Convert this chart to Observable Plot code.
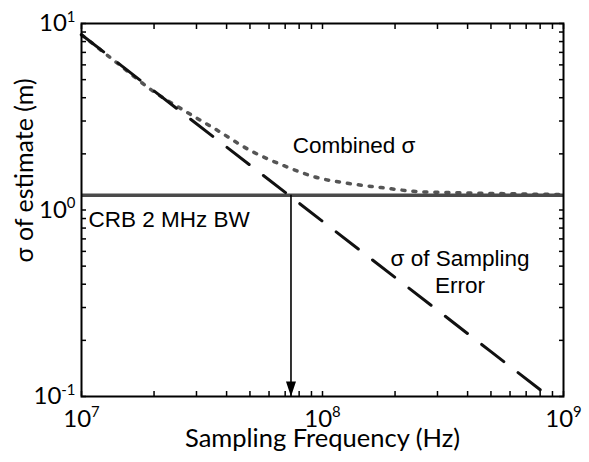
<!DOCTYPE html>
<html><head><meta charset="utf-8">
<script src="https://cdn.jsdelivr.net/npm/d3@7"></script>
<script src="https://cdn.jsdelivr.net/npm/@observablehq/plot@0.6"></script>
<style>body{margin:0;background:#fff} svg{display:block}</style>
</head><body><div id="chart"></div>
<script>
// --- data ---
const xDomain = [1e7, 1e9];
const yDomain = [0.1, 10];
const xMajorTicks = [1e7, 1e8, 1e9];
const xMinorTicks = [2e7, 3e7, 4e7, 5e7, 6e7, 7e7, 8e7, 9e7, 2e8, 3e8, 4e8, 5e8, 6e8, 7e8, 8e8, 9e8];
const yMajorTicks = [0.1, 1, 10];
const yMinorTicks = [0.2, 0.3, 0.4, 0.5, 0.6, 0.7, 0.8, 0.9, 2, 3, 4, 5, 6, 7, 8, 9];

const samplingFreq  = [1e7, 2e7, 5e7, 1e8, 2e8, 5e8, 8.7e8];
const samplingSigma = [8.7, 4.35, 1.74, 0.87, 0.435, 0.174, 0.1];

const combinedFreq  = [1e7, 1.45e7, 2e7, 2.7e7, 3.67e7, 5.03e7, 6.9e7, 9.55e7, 1.27e8, 1.75e8, 2.39e8, 3.31e8, 4.54e8, 6.45e8, 1e9];
const combinedSigma = [8.7, 5.95, 4.3, 3.38, 2.67, 2.08, 1.73, 1.49, 1.39, 1.32, 1.26, 1.24, 1.23, 1.22, 1.21];

const crbSigma = 1.2;
const arrowFreq = 7.4e7;

const labelCombined = "Combined σ";
const labelCrb = "CRB 2 MHz BW";
const labelSampling = "σ of Sampling\nError";
const xTitle = "Sampling Frequency (Hz)";
const yTitle = "σ of estimate (m)";

const sampling = samplingFreq.map((f, i) => ({f, s: samplingSigma[i]}));
const combined = combinedFreq.map((f, i) => ({f, s: combinedSigma[i]}));

const arrowHead = {draw(ctx) { ctx.moveTo(0, 0); ctx.lineTo(-5, -15); ctx.lineTo(5, -15); ctx.closePath(); }};
const fmt = d => "10^" + Math.round(Math.log10(d));
const allX = xMajorTicks.concat(xMinorTicks);
const allY = yMajorTicks.concat(yMinorTicks);
const annFont = "'Liberation Sans', Arial, sans-serif";

const chart = Plot.plot({
  width: 589, height: 462,
  marginLeft: 81, marginRight: 26, marginTop: 23, marginBottom: 66,
  style: {fontFamily: "Lato, sans-serif", background: "#fff", color: "#000", overflow: "visible"},
  x: {type: "log", domain: xDomain},
  y: {type: "log", domain: yDomain},
  marks: [
    Plot.line(combined, {x: "f", y: "s", stroke: "#555", strokeWidth: 3.5, strokeDasharray: "3,8", strokeLinecap: "round", curve: "monotone-x"}),
    Plot.ruleY([crbSigma], {stroke: "#4a4a4a", strokeWidth: 3.5}),
    Plot.line(sampling, {x: "f", y: "s", stroke: "#111", strokeWidth: 3, strokeDasharray: "28,18"}),
    Plot.ruleX([arrowFreq], {y1: crbSigma, y2: yDomain[0], stroke: "#000", strokeWidth: 1.6}),
    Plot.dot([arrowFreq], {x: d => d, y: () => yDomain[0], symbol: arrowHead, fill: "#000", stroke: "none"}),
    Plot.axisX({anchor: "bottom", ticks: allX, tickSize: -5, tickFormat: () => "", label: null, strokeWidth: 1.5}),
    Plot.axisX({anchor: "top", ticks: allX, tickSize: -5, tickFormat: () => "", label: null, strokeWidth: 1.5}),
    Plot.axisY({anchor: "left", ticks: allY, tickSize: -5, tickFormat: () => "", label: null, strokeWidth: 1.5}),
    Plot.axisY({anchor: "right", ticks: allY, tickSize: -5, tickFormat: () => "", label: null, strokeWidth: 1.5}),
    Plot.axisX({anchor: "bottom", ticks: xMajorTicks, tickSize: 0, tickPadding: 13, tickFormat: fmt, fontSize: 24, label: null}),
    Plot.axisY({anchor: "left", ticks: yMajorTicks, tickSize: 0, tickPadding: 6, tickFormat: fmt, fontSize: 24, label: null}),
    Plot.frame({stroke: "#000", strokeWidth: 2}),
    Plot.text([xTitle], {x: () => 1e8, y: () => 0.0535, textAnchor: "middle", lineAnchor: "bottom", fontSize: 25.5}),
    Plot.text([yTitle], {x: () => 5.85e6, y: () => 1.63, rotate: -90, textAnchor: "middle", lineAnchor: "middle", fontSize: 25}),
    Plot.text([labelCombined], {x: () => 7.52e7, y: () => 2.01, textAnchor: "start", lineAnchor: "bottom", fontSize: 22.5, fontFamily: annFont}),
    Plot.text([labelCrb], {x: () => 1.07e7, y: () => 0.806, textAnchor: "start", lineAnchor: "bottom", fontSize: 22.5, fontFamily: annFont}),
    Plot.text([labelSampling], {x: () => 3.72e8, y: () => 0.357, textAnchor: "middle", lineAnchor: "bottom", lineHeight: 1.22, fontSize: 22.5, fontFamily: annFont})
  ]
});

// superscript exponents on tick labels
chart.querySelectorAll("text").forEach(t => {
  const m = /^10\^(-?\d+)$/.exec(t.textContent);
  if (!m) return;
  t.textContent = "10";
  const ts = document.createElementNS("http://www.w3.org/2000/svg", "tspan");
  ts.setAttribute("dy", "-0.62em");
  ts.setAttribute("font-size", "0.62em");
  ts.textContent = m[1];
  t.appendChild(ts);
});
document.getElementById("chart").appendChild(chart);
</script>
</body></html>
